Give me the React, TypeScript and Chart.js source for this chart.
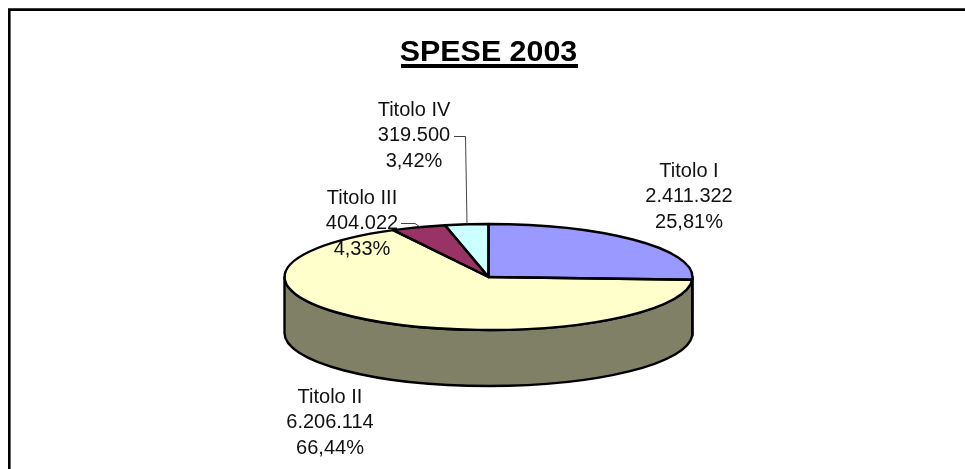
import React, { useEffect, useRef } from "react";
import { Chart, registerables } from "chart.js";

Chart.register(...registerables);

const categories = ["Titolo I", "Titolo II", "Titolo III", "Titolo IV"];
const values = [2411322, 6206114, 404022, 319500];
const valueLabels = ["2.411.322", "6.206.114", "404.022", "319.500"];
const percentLabels = ["25,81%", "66,44%", "4,33%", "3,42%"];
const topColors = ["#9999FF", "#FFFFCC", "#993366", "#CCFFFF"];
const sideColors = ["#4D4D80", "#808066", "#4D1A33", "#668080"];

const FONT = '"Liberation Sans", Arial, sans-serif';
const SQUASH = 53 / 204;
const DEPTH = 56;
const labelAnchors = [
  { x: 689, y: 171 },
  { x: 330, y: 397 },
  { x: 362, y: 198 },
  { x: 414, y: 110 },
];
const LINE_PITCH = 25.7;

const pie3d = {
  id: "pie3d",
  beforeDraw(chart: any) {
    const { ctx, width, height } = chart;
    ctx.save();
    ctx.strokeStyle = "#000";
    ctx.lineWidth = 2.6;
    ctx.beginPath();
    ctx.moveTo(9.3, height);
    ctx.lineTo(9.3, 9.6);
    ctx.lineTo(width, 9.6);
    ctx.stroke();
    ctx.restore();
  },
  beforeDatasetsDraw(chart: any) {
    const { ctx } = chart;
    const arcs = chart.getDatasetMeta(0).data;
    const first = arcs[0];
    ctx.save();
    ctx.lineWidth = 2.4;
    ctx.strokeStyle = "#000";
    ctx.lineJoin = "round";
    arcs.forEach((arc: any, i: number) => {
      const a = Math.max(arc.startAngle, 0);
      const b = Math.min(arc.endAngle, Math.PI);
      if (b <= a) return;
      const rx = arc.outerRadius;
      const ry = rx * SQUASH;
      ctx.beginPath();
      ctx.ellipse(arc.x, arc.y, rx, ry, 0, a, b);
      ctx.ellipse(arc.x, arc.y + DEPTH, rx, ry, 0, b, a, true);
      ctx.closePath();
      ctx.fillStyle = sideColors[i];
      ctx.fill();
      ctx.stroke();
    });
    ctx.restore();
    // Flatten the library's own slices into the tilted top face.
    ctx.save();
    ctx.translate(first.x, first.y);
    ctx.scale(1, SQUASH);
    ctx.translate(-first.x, -first.y);
  },
  afterDatasetsDraw(chart: any) {
    const { ctx } = chart;
    ctx.restore();
    const arcs = chart.getDatasetMeta(0).data;
    ctx.save();
    ctx.lineWidth = 2.4;
    ctx.strokeStyle = "#000";
    ctx.lineJoin = "round";
    arcs.forEach((arc: any) => {
      const rx = arc.outerRadius;
      ctx.beginPath();
      ctx.moveTo(arc.x, arc.y);
      ctx.ellipse(arc.x, arc.y, rx, rx * SQUASH, 0, arc.startAngle, arc.endAngle);
      ctx.closePath();
      ctx.stroke();
    });

    // leader lines
    ctx.lineWidth = 1;
    ctx.strokeStyle = "#444";
    ctx.beginPath();
    ctx.moveTo(454, 136.5);
    ctx.lineTo(465.5, 136.5);
    ctx.lineTo(467, 224);
    ctx.moveTo(401, 223.5);
    ctx.lineTo(415, 223.5);
    ctx.lineTo(420, 227);
    ctx.stroke();

    // labels
    ctx.fillStyle = "#111";
    ctx.font = `20px ${FONT}`;
    ctx.textAlign = "center";
    ctx.textBaseline = "middle";
    categories.forEach((name, i) => {
      const { x, y } = labelAnchors[i];
      ctx.fillText(name, x, y);
      ctx.fillText(valueLabels[i], x, y + LINE_PITCH);
      ctx.fillText(percentLabels[i], x, y + 2 * LINE_PITCH);
    });

    // title underline
    ctx.fillStyle = "#000";
    ctx.fillRect(401, 64, 177, 4);
    ctx.restore();
  },
};

export default function App() {
  const ref = useRef<HTMLCanvasElement>(null);
  useEffect(() => {
    const chart = new Chart(ref.current!, {
      type: "pie",
      data: {
        labels: categories,
        datasets: [
          {
            data: values,
            backgroundColor: topColors,
            borderWidth: 0,
            radius: 204,
            clip: false,
          } as any,
        ],
      },
      options: {
        responsive: false,
        animation: false,
        layout: { padding: { left: 12, right: 0, top: 0, bottom: 0 } },
        plugins: {
          legend: { display: false },
          tooltip: { enabled: false },
          title: {
            display: true,
            text: "SPESE 2003",
            color: "#000",
            font: { family: FONT, size: 30.4, weight: "bold", lineHeight: 1.2 },
            padding: { top: 34.5, bottom: 14 },
          },
        },
      },
      plugins: [pie3d],
    });
    return () => chart.destroy();
  }, []);
  return (
    <div style={{ position: "absolute", left: 0, top: 0, width: 965, height: 469, background: "#fff" }}>
      <canvas ref={ref} width={965} height={469} style={{ display: "block" }} />
    </div>
  );
}
